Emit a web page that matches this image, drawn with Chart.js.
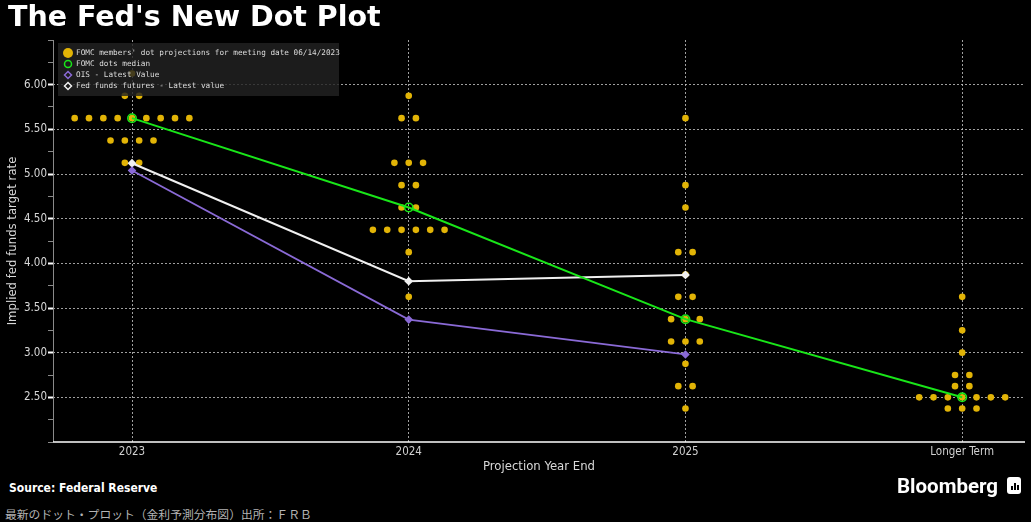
<!DOCTYPE html>
<html>
<head>
<meta charset="utf-8">
<script src="https://cdn.jsdelivr.net/npm/chart.js@4.4.1/dist/chart.umd.min.js"></script>
<style>
  html, body { margin: 0; padding: 0; background: #000; }
  #wrap { position: relative; width: 1031px; height: 522px; background: #000; overflow: hidden; }
  #title { position: absolute; left: 8px; top: 0px; font: bold 28.5px 'DejaVu Sans'; color: #fff; white-space: nowrap; }
  #box { position: absolute; left: 0; top: 0; width: 1031px; height: 480px; }
  #source { position: absolute; left: 9px; top: 481px; line-height: 1; font: bold 12px 'DejaVu Sans Condensed', 'DejaVu Sans'; color: #fff; }
  #brand { position: absolute; left: 897px; top: 474px; line-height: 1; font: bold 20.5px Roboto; color: #fff; }
  #icon { position: absolute; left: 1007px; top: 477px; width: 14px; height: 17px; background: #fff; border-radius: 3px; }
  #icon span { position: absolute; bottom: 4px; width: 2px; background: #000; }
  #note { position: absolute; left: 5px; top: 505px; line-height: 1; font: 11.8px 'Noto Sans CJK JP'; color: #b4b4b4; white-space: nowrap; }
</style>
</head>
<body>
<div id="wrap">
  <div id="box"><canvas id="dotChart"></canvas></div>
  <div id="title">The Fed's New Dot Plot</div>
  <div id="source">Source: Federal Reserve</div>
  <div id="brand">Bloomberg</div>
  <div id="icon"><span style="left:4px;height:4px"></span><span style="left:7px;height:7px"></span><span style="left:10px;height:5px"></span></div>
  <div id="note">最新のドット・プロット（金利予測分布図）出所：ＦＲＢ</div>
</div>
<script>
// categories on the x axis
const categories = ['2023', '2024', '2025', 'Longer Term'];

// one value per FOMC participant (June 14, 2023 meeting)
const dots2023 = [6.125, 5.875, 5.875,
  5.625, 5.625, 5.625, 5.625, 5.625, 5.625, 5.625, 5.625, 5.625,
  5.375, 5.375, 5.375, 5.375, 5.125, 5.125];
const dots2024 = [5.875, 5.625, 5.625, 5.125, 5.125, 5.125, 4.875, 4.875,
  4.625, 4.625, 4.375, 4.375, 4.375, 4.375, 4.375, 4.375, 4.125, 3.625];
const dots2025 = [5.625, 4.875, 4.625, 4.125, 4.125, 3.875, 3.625, 3.625,
  3.375, 3.375, 3.375, 3.125, 3.125, 3.125, 2.875, 2.625, 2.625, 2.375];
const dotsLonger = [3.625, 3.25, 3.0, 2.75, 2.75, 2.625, 2.625,
  2.5, 2.5, 2.5, 2.5, 2.5, 2.5, 2.5, 2.375, 2.375, 2.375];

const medianValues = [5.625, 4.625, 3.375, 2.5];
const oisValues = [5.04, 3.37, 2.98];
const futuresValues = [5.12, 3.80, 3.87];

const legendLabels = [
  "FOMC members' dot projections for meeting date 06/14/2023",
  'FOMC dots median',
  'OIS - Latest Value',
  'Fed funds futures - Latest value'
];

const dotColor = '#e2b406';
const medianColor = '#19e619';
const oisColor = '#8a6ad6';
const futuresColor = '#f0f0f0';
const gridColor = 'rgba(200,200,200,0.8)';
const dotStep = 0.0518;

// lay dots of the same rate side by side around the category
function spreadDots(values, catIndex) {
  const counts = {};
  values.forEach(v => counts[v] = (counts[v] || 0) + 1);
  const pts = [];
  Object.keys(counts).forEach(k => {
    const n = counts[k];
    for (let i = 0; i < n; i++) {
      pts.push({ x: catIndex + (i - (n - 1) / 2) * dotStep, y: Number(k) });
    }
  });
  return pts;
}

function toPoints(values) {
  return values.map((v, i) => ({ x: i, y: v }));
}

function isMajor(v) {
  return Math.abs(v * 2 - Math.round(v * 2)) < 1e-6;
}

const dotPoints = [dots2023, dots2024, dots2025, dotsLonger]
  .map((d, i) => spreadDots(d, i)).flat();

// legend box inside the plot, over the dots; solid axis lines drawn here too
const legendBox = {
  id: 'legendBox',
  afterDatasetsDraw(chart) {
    const ctx = chart.ctx;
    const a = chart.chartArea;
    ctx.save();
    ctx.lineWidth = 1;
    ctx.strokeStyle = '#8a8a8a';
    ctx.beginPath();
    ctx.moveTo(a.left + 0.5, a.top);
    ctx.lineTo(a.left + 0.5, a.bottom);
    ctx.stroke();
    ctx.lineWidth = 1.5;
    ctx.strokeStyle = '#ffffff';
    ctx.beginPath();
    ctx.moveTo(a.left, a.bottom);
    ctx.lineTo(a.right, a.bottom);
    ctx.stroke();

    ctx.fillStyle = 'rgba(34,34,34,0.82)';
    ctx.fillRect(58, 43, 281, 53);
    ctx.font = '7.7px "DejaVu Sans Mono"';
    ctx.textBaseline = 'middle';
    ctx.fillStyle = '#dcdcdc';
    const ys = [53, 64, 75, 86];
    legendLabels.forEach((t, i) => ctx.fillText(t, 76, ys[i]));
    ctx.beginPath();
    ctx.arc(68, ys[0], 5, 0, Math.PI * 2);
    ctx.fillStyle = dotColor;
    ctx.fill();
    ctx.lineWidth = 1.5;
    ctx.beginPath();
    ctx.arc(68, ys[1], 3.5, 0, Math.PI * 2);
    ctx.strokeStyle = medianColor;
    ctx.stroke();
    [[ys[2], oisColor], [ys[3], futuresColor]].forEach(([y, c]) => {
      ctx.beginPath();
      ctx.moveTo(68, y - 3.5);
      ctx.lineTo(71.5, y);
      ctx.lineTo(68, y + 3.5);
      ctx.lineTo(64.5, y);
      ctx.closePath();
      ctx.strokeStyle = c;
      ctx.stroke();
    });
    ctx.restore();
  }
};

const axisFont = { family: "'DejaVu Sans Condensed', 'DejaVu Sans'", size: 11.5 };

new Chart(document.getElementById('dotChart'), {
  type: 'scatter',
  data: {
    datasets: [
      {
        label: legendLabels[0],
        data: dotPoints,
        pointRadius: 3.3,
        pointBackgroundColor: dotColor,
        pointBorderWidth: 0,
        order: 5
      },
      {
        label: legendLabels[3],
        data: toPoints(futuresValues),
        showLine: true,
        borderColor: futuresColor,
        borderWidth: 2,
        pointStyle: 'rectRot',
        pointRadius: 3,
        pointBackgroundColor: futuresColor,
        pointBorderColor: futuresColor,
        order: 3
      },
      {
        label: legendLabels[2],
        data: toPoints(oisValues),
        showLine: true,
        borderColor: oisColor,
        borderWidth: 1.8,
        pointStyle: 'rectRot',
        pointRadius: 3,
        pointBackgroundColor: oisColor,
        pointBorderColor: oisColor,
        order: 2
      },
      {
        label: legendLabels[1],
        data: toPoints(medianValues),
        showLine: true,
        borderColor: medianColor,
        borderWidth: 2,
        pointStyle: 'circle',
        pointRadius: 4.2,
        pointBackgroundColor: 'rgba(0,0,0,0)',
        pointBorderColor: medianColor,
        pointBorderWidth: 1.6,
        order: 1
      }
    ]
  },
  options: {
    responsive: true,
    maintainAspectRatio: false,
    animation: false,
    layout: { padding: { top: 40, right: 6, left: 0, bottom: 0 } },
    plugins: {
      legend: { display: false },
      tooltip: { enabled: false }
    },
    scales: {
      x: {
        type: 'linear',
        min: -0.2855,
        max: 3.227,
        afterBuildTicks: function (scale) {
          scale.ticks = categories.map((c, i) => ({ value: i }));
        },
        afterFit: function (scale) { scale.height = 38; },
        ticks: {
          color: '#d0d0d0',
          font: axisFont,
          padding: 3,
          maxRotation: 0,
          callback: function (v) { return categories[v]; }
        },
        grid: {
          color: gridColor,
          drawTicks: false
        },
        border: { display: false, dash: [2, 2] },
        title: {
          display: true,
          text: 'Projection Year End',
          color: '#d8d8d8',
          font: { family: "'DejaVu Sans Condensed', 'DejaVu Sans'", size: 13 },
          padding: { top: 0, bottom: 6 }
        }
      },
      y: {
        min: 2.0,
        max: 6.5,
        afterBuildTicks: function (scale) {
          const t = [];
          for (let v = 2.0; v <= 6.5001; v += 0.25) t.push({ value: Math.round(v * 100) / 100 });
          scale.ticks = t;
        },
        afterFit: function (scale) { scale.width = 53; },
        ticks: {
          color: '#d8d8d8',
          font: axisFont,
          padding: 1,
          autoSkip: false,
          callback: function (v) {
            return (v >= 2.5 && v <= 6.0 && isMajor(v)) ? v.toFixed(2) : '';
          }
        },
        grid: {
          color: function (c) {
            const v = c.tick ? c.tick.value : 0;
            return (v >= 2.5 && v <= 6.0 && isMajor(v)) ? gridColor : 'rgba(0,0,0,0)';
          },
          tickBorderDash: [],
          tickLength: 5,
          tickColor: function (c) {
            const v = c.tick ? c.tick.value : 0;
            return (v > 2.0 && v < 6.5 && isMajor(v)) ? '#ffffff' : '#8a8a8a';
          },
          tickWidth: function (c) {
            const v = c.tick ? c.tick.value : 0;
            return (v > 2.0 && v < 6.5 && isMajor(v)) ? 2 : 1;
          }
        },
        border: { display: false, dash: [2, 2] },
        title: {
          display: true,
          text: 'Implied fed funds target rate',
          color: '#d8d8d8',
          font: { family: "'DejaVu Sans Condensed', 'DejaVu Sans'", size: 13 },
          padding: { top: 5, bottom: 0 }
        }
      }
    }
  },
  plugins: [legendBox]
});
</script>
</body>
</html>
